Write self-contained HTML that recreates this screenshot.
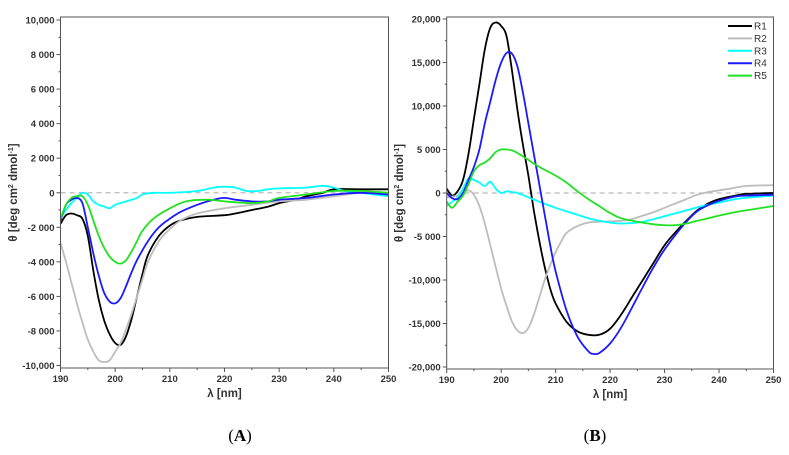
<!DOCTYPE html>
<html><head><meta charset="utf-8"><style>
body{margin:0;background:#fff;}
svg{display:block;font-family:"Liberation Sans",sans-serif;}
</style></head><body>
<svg id="fig" width="789" height="455" viewBox="0 0 789 455" xmlns="http://www.w3.org/2000/svg"></svg>
<script>
const wlTicks = [190,200,210,220,230,240,250];
const aTickVals = [10000,8000,6000,4000,2000,0,-2000,-4000,-6000,-8000,-10000];
const aTickLabels = ["10,000","8 000","6 000","4 000","2 000","0","-2 000","-4 000","-6 000","-8 000","-10,000"];
const bTickVals = [20000,15000,10000,5000,0,-5000,-10000,-15000,-20000];
const bTickLabels = ["20,000","15,000","10,000","5 000","0","-5 000","-10,000","-15,000","-20,000"];
const seriesNames = ["R1","R2","R3","R4","R5"];
const seriesColors = ["#000000","#bdbdbd","#00ffff","#1a1aff","#22e022"];

const A_R1 = [[190,-1800],[191,-1300],[192,-1200],[193,-1300],[194,-1500],[195,-2500],[196,-4500],[197,-6200],[198,-7400],[199,-8200],[200,-8700],[201,-8800],[202,-8300],[203,-7300],[204,-6000],[205,-4700],[206,-3600],[208,-2500],[210,-1900],[212,-1600],[215,-1400],[220,-1300],[222,-1200],[225,-1000],[228,-800],[230,-600],[233,-400],[235,-200],[238,0],[240,200],[245,200],[250,200]];
const A_R2 = [[190,-2900],[191,-4000],[192,-5200],[193,-6400],[194,-7500],[195,-8500],[196,-9200],[197,-9700],[198,-9800],[199,-9700],[200,-9200],[201,-8700],[202,-7900],[203,-7000],[204,-6000],[205,-5000],[206,-4000],[208,-2800],[210,-2100],[212,-1600],[215,-1200],[220,-900],[225,-700],[230,-500],[235,-400],[240,-200],[245,0],[250,0]];
const A_R3 = [[190,-1500],[191,-1000],[192,-600],[193,-300],[194,0],[195,-100],[196,-500],[197,-700],[198,-800],[199,-900],[200,-700],[202,-500],[204,-300],[205,-100],[207,0],[210,0],[215,100],[218,300],[220,350],[222,300],[224,100],[226,100],[228,200],[230,250],[235,300],[238,400],[240,300],[242,100],[245,0],[250,-200]];
const A_R4 = [[190,-1600],[191,-700],[192,-400],[193,-300],[194,-600],[195,-2000],[196,-3500],[197,-4800],[198,-5800],[199,-6300],[200,-6400],[201,-6100],[202,-5400],[203,-4600],[204,-3900],[206,-2800],[208,-2000],[210,-1500],[212,-1100],[215,-700],[218,-400],[220,-300],[222,-400],[225,-500],[228,-500],[230,-400],[235,-300],[240,-100],[245,0],[250,-100]];
const A_R5 = [[190,-1500],[191,-700],[192,-300],[193,-200],[194,-200],[195,-700],[196,-1600],[197,-2500],[198,-3200],[199,-3700],[200,-4000],[201,-4100],[202,-3900],[203,-3400],[204,-2800],[205,-2200],[207,-1500],[210,-900],[213,-500],[217,-400],[220,-500],[225,-600],[228,-500],[230,-300],[235,-100],[240,100],[245,100],[250,0]];

const B_R1 = [[190,500],[191,-300],[192,200],[193,1500],[194,4500],[195,8500],[196,12500],[197,16500],[198,19000],[199,19600],[200,19200],[201,18000],[202,14000],[203,9500],[204,5500],[205,2000],[206,-2000],[207,-5500],[208,-8500],[209,-11000],[210,-12700],[212,-14800],[214,-15900],[216,-16300],[218,-16300],[220,-15600],[222,-14000],[224,-12000],[226,-10000],[228,-8000],[230,-6000],[232,-4500],[234,-3200],[236,-2000],[238,-1200],[240,-700],[243,-300],[245,-100],[250,0]];
const B_R2 = [[190,-500],[192,-300],[193,0],[194,300],[195,-200],[196,-1500],[197,-3500],[198,-6000],[199,-8500],[200,-11000],[201,-13000],[202,-14800],[203,-15800],[204,-16100],[205,-15500],[206,-14000],[207,-12000],[208,-10000],[209,-8300],[210,-6800],[211,-5600],[212,-4600],[214,-3800],[216,-3400],[218,-3300],[222,-3200],[224,-3000],[226,-2600],[228,-2200],[230,-1700],[232,-1200],[234,-700],[236,-200],[238,100],[240,300],[242,500],[245,800],[250,900]];
const B_R3 = [[190,-1500],[191,-1000],[192,-500],[193,500],[194,1700],[195,1500],[196,1200],[197,800],[198,1300],[199,500],[200,0],[201,200],[202,100],[203,0],[205,-500],[207,-1000],[210,-1700],[213,-2300],[216,-2900],[218,-3200],[220,-3400],[222,-3500],[225,-3400],[228,-3000],[231,-2500],[234,-2000],[237,-1500],[240,-1100],[243,-700],[246,-500],[250,-300]];
const B_R4 = [[190,0],[191,-600],[192,-700],[193,0],[194,1500],[195,3000],[196,5000],[197,8000],[198,10500],[199,13000],[200,15000],[201,16100],[202,16000],[203,14500],[204,11500],[205,8000],[206,4500],[207,1000],[208,-2500],[209,-6000],[210,-9000],[212,-13500],[214,-16500],[216,-18200],[217,-18500],[218,-18400],[220,-17300],[222,-15500],[224,-13200],[226,-10800],[228,-8500],[230,-6500],[232,-4800],[234,-3300],[236,-2100],[238,-1400],[240,-900],[243,-400],[245,-300],[250,-200]];
const B_R5 = [[190,-1000],[191,-1700],[192,-1000],[193,-300],[194,1000],[195,2500],[196,3200],[197,3500],[198,4000],[199,4700],[200,5000],[201,5000],[202,4900],[203,4600],[205,3800],[207,3000],[210,2000],[212,1200],[214,200],[216,-700],[218,-1500],[220,-2300],[222,-2900],[225,-3300],[228,-3600],[230,-3700],[232,-3700],[234,-3500],[236,-3200],[238,-2900],[240,-2600],[243,-2200],[246,-1900],[250,-1500]];

const NS="http://www.w3.org/2000/svg";
const svg=document.getElementById('fig');
function mk(tag,attrs,parent){const e=document.createElementNS(NS,tag);for(const k in attrs)e.setAttribute(k,attrs[k]);(parent||svg).appendChild(e);return e;}

function smoothPath(pts){
  let d='M'+pts[0][0].toFixed(1)+','+pts[0][1].toFixed(1);
  for(let i=0;i<pts.length-1;i++){
    const p0=pts[Math.max(0,i-1)],p1=pts[i],p2=pts[i+1],p3=pts[Math.min(pts.length-1,i+2)];
    const c1x=p1[0]+(p2[0]-p0[0])/6,c1y=p1[1]+(p2[1]-p0[1])/6;
    const c2x=p2[0]-(p3[0]-p1[0])/6,c2y=p2[1]-(p3[1]-p1[1])/6;
    d+=' C'+c1x.toFixed(1)+','+c1y.toFixed(1)+' '+c2x.toFixed(1)+','+c2y.toFixed(1)+' '+p2[0].toFixed(1)+','+p2[1].toFixed(1);
  }
  return d;
}

function panel(cfg){
  const g=mk('g',{});
  
  
  const xs=v=>cfg.x0+(v-190)/60*(cfg.x1-cfg.x0);
  const ys=v=>cfg.yTop+(cfg.ymax-v)/(cfg.ymax-cfg.ymin)*(cfg.yBot-cfg.yTop);
  const z=mk('line',{x1:cfg.x0,x2:cfg.x1,y1:ys(0),y2:ys(0),stroke:'#bbb','stroke-width':1.2,'stroke-dasharray':'5,4'},g);
  
  
  cfg.series.forEach((s,i)=>{
    const d=smoothPath(s.map(p=>[xs(p[0]),ys(p[1])]));
    const p=mk('path',{d:d,fill:'none',stroke:seriesColors[i],'stroke-width':1.8,'stroke-linejoin':'round'},g);
    
    
  });
  const f=mk('rect',{x:cfg.x0,y:cfg.fTop,width:cfg.x1-cfg.x0,height:cfg.fBot-cfg.fTop,fill:'none',stroke:'#555','stroke-width':1},g);
  
  
  cfg.tv.forEach((v,i)=>{
    const y=ys(v);
    mk('line',{x1:cfg.x0-4,x2:cfg.x0,y1:y,y2:y,stroke:'#555'},g);
    if(i<cfg.tv.length-1){const ym=(y+ys(cfg.tv[i+1]))/2;mk('line',{x1:cfg.x0-2,x2:cfg.x0,y1:ym,y2:ym,stroke:'#555'},g);}
    const t=mk('text',{x:cfg.x0-6,y:y+3.5,'text-anchor':'end','font-size':9.5,'font-weight':'bold',fill:'#333'},g);
    t.textContent=cfg.tl[i];
    
    
  });
  wlTicks.forEach((v,i)=>{
    const x=xs(v);
    mk('line',{x1:x,x2:x,y1:cfg.fBot,y2:cfg.fBot+4,stroke:'#555'},g);
    if(i<wlTicks.length-1){const xm=xs(v+5);mk('line',{x1:xm,x2:xm,y1:cfg.fBot,y2:cfg.fBot+2,stroke:'#555'},g);}
    const t=mk('text',{x:x,y:cfg.fBot+14,'text-anchor':'middle','font-size':9.5,'font-weight':'bold',fill:'#333'},g);
    t.textContent=String(v);
    
    
  });
  const xt=mk('text',{x:(cfg.x0+cfg.x1)/2,y:cfg.fBot+29,'text-anchor':'middle','font-size':11.5,'font-weight':'bold',fill:'#333'},g);
  xt.textContent='λ [nm]';
  
  
  const yt=mk('text',{x:0,y:0,transform:`translate(${cfg.ytx},${(cfg.fTop+cfg.fBot)/2}) rotate(-90)`,'text-anchor':'middle','font-size':11.5,'font-weight':'bold',fill:'#333'},g);
  yt.innerHTML='θ [deg cm<tspan dy="-4" font-size="7">2</tspan><tspan dy="4"> dmol</tspan><tspan dy="-4" font-size="7">-1</tspan><tspan dy="4">]</tspan>';
  
  
  const pl=mk('text',{x:cfg.labX,y:441,'text-anchor':'middle','font-size':17,'font-family':'Liberation Serif, serif',fill:'#000'},g);
  pl.innerHTML='(<tspan font-weight="bold">'+cfg.label+'</tspan>)';
  
  
  return {g,xs,ys};
}

panel({name:'panel-a-chart',x0:60.5,x1:388.5,fTop:17,fBot:368,yTop:20,yBot:365.5,ymax:10000,ymin:-10000,tv:aTickVals,tl:aTickLabels,
  series:[A_R1,A_R2,A_R3,A_R4,A_R5],ytx:17,labX:240,label:'A'});
panel({name:'panel-b-chart',x0:446.7,x1:773.5,fTop:17,fBot:369,yTop:19,yBot:367,ymax:20000,ymin:-20000,tv:bTickVals,tl:bTickLabels,
  series:[B_R1,B_R2,B_R3,B_R4,B_R5],ytx:403,labX:595,label:'B'});

const lg=mk('g',{});


seriesNames.forEach((n,i)=>{
  const y=26+i*12.4;
  const it=mk('g',{},lg);
  
  
  mk('line',{x1:728,x2:752,y1:y,y2:y,stroke:seriesColors[i],'stroke-width':2},it);
  const t=mk('text',{x:754,y:y+3.5,'font-size':10,fill:'#333'},it);
  t.textContent=n;
});
</script>
</body></html>
